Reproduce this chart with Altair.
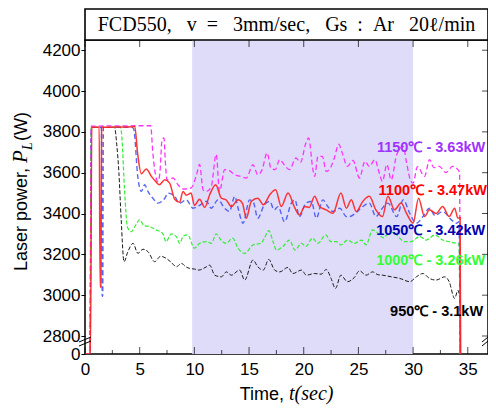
import altair as alt
import pandas as pd

# ---------------- data ----------------
x_major = [0, 5, 10, 15, 20, 25, 30, 35]
x_minor = [2.5, 7.5, 12.5, 17.5, 22.5, 27.5, 32.5]
y_ticks = [0, 2800, 3000, 3200, 3400, 3600, 3800, 4000, 4200]
shade_span = [9.8, 30.0]

s950 = [(0, 0), (0.45, 0), (0.58, 3822), (2.7, 3822), (2.9, 3740), (3.1, 3600), (3.3, 3380), (3.57, 3164),
        (3.9, 3210), (4.39, 3254), (4.84, 3205), (5.3, 3225), (5.76, 3213), (6.37, 3164), (6.9, 3190),
        (7.44, 3180), (7.9, 3160), (8.35, 3139), (8.81, 3156), (9.2, 3140), (9.57, 3131), (10.0, 3128),
        (10.4, 3123), (11.1, 3139), (11.4, 3147), (11.86, 3098), (12.47, 3090), (12.93, 3114), (13.38, 3098),
        (14.14, 3123), (14.6, 3074), (15.36, 3172), (15.8, 3139), (16.3, 3123), (16.8, 3175), (17.34, 3123),
        (17.8, 3114), (18.56, 3136), (19.0, 3106), (19.8, 3123), (20.24, 3098), (21.0, 3106), (21.6, 3103),
        (22.06, 3126), (22.5, 3082), (22.9, 3033), (23.4, 3098), (24.0, 3066), (24.6, 3085), (25.1, 3119),
        (25.7, 3098), (26.3, 3114), (26.8, 3100), (27.2, 3098), (28.0, 3090), (28.8, 3082), (29.7, 3066),
        (30.3, 3090), (30.9, 3106), (31.5, 3082), (32.1, 3074), (32.9, 3090), (33.3, 3066), (33.8, 2984),
        (34.1, 3024), (34.25, 2990), (34.3, 0)]

s1000 = [(0, 0), (0.45, 0), (0.58, 3822), (3.25, 3822), (3.4, 3750), (3.6, 3530), (3.9, 3330), (4.24, 3311),
         (4.6, 3340), (5.0, 3369), (5.4, 3340), (5.9, 3336), (6.5, 3320), (7.1, 3303), (7.4, 3262), (7.9, 3300),
         (8.35, 3287), (8.65, 3254), (9.0, 3290), (9.4, 3295), (10.0, 3230), (10.48, 3254), (11.1, 3262),
         (11.55, 3254), (12.0, 3300), (12.47, 3267), (12.9, 3254), (13.5, 3279), (14.0, 3230), (14.6, 3205),
         (15.36, 3246), (16.1, 3254), (16.4, 3279), (16.8, 3316), (17.2, 3262), (17.5, 3221), (18.1, 3238),
         (18.7, 3270), (19.2, 3221), (19.8, 3254), (20.2, 3238), (20.8, 3279), (21.3, 3254), (22.0, 3295),
         (22.5, 3262), (23.0, 3262), (23.4, 3246), (24.0, 3270), (24.65, 3254), (25.3, 3270), (25.7, 3246),
         (26.3, 3320), (26.8, 3303), (27.3, 3280), (27.85, 3311), (28.5, 3295), (29.2, 3262), (29.8, 3262),
         (30.6, 3287), (31.2, 3270), (32.0, 3295), (32.7, 3270), (33.3, 3262), (33.95, 3254), (34.2, 3250),
         (34.3, 0)]

s1050 = [(0, 0), (0.45, 0), (0.58, 3822), (1.5, 3822), (1.57, 2995), (1.62, 2995), (1.68, 3822), (4.3, 3822),
         (4.45, 3815), (4.84, 3574), (5.15, 3508), (5.46, 3541), (5.76, 3508), (6.2, 3475), (6.67, 3451),
         (7.3, 3475), (7.6, 3500), (8.2, 3484), (8.65, 3451), (9.27, 3467), (9.87, 3426), (10.48, 3440),
         (11.1, 3460), (11.55, 3426), (12.16, 3467), (12.77, 3426), (13.2, 3410), (13.7, 3484), (14.0, 3426),
         (14.45, 3352), (15.05, 3467), (15.4, 3455), (15.8, 3377), (16.4, 3443), (16.9, 3459), (17.3, 3418),
         (17.65, 3434), (18.25, 3360), (18.87, 3451), (19.2, 3467), (19.6, 3385), (20.2, 3451), (20.7, 3459),
         (21.15, 3377), (21.75, 3467), (22.2, 3434), (22.67, 3410), (23.3, 3426), (23.9, 3385), (24.2, 3385),
         (24.7, 3400), (25.4, 3434), (26.0, 3451), (26.6, 3385), (27.1, 3420), (27.7, 3451), (28.5, 3385),
         (29.1, 3467), (29.7, 3400), (30.3, 3352), (30.9, 3385), (31.5, 3426), (32.0, 3390), (32.7, 3410),
         (33.5, 3369), (33.95, 3352), (34.2, 3360), (34.3, 0)]

s1100 = [(0, 0), (0.5, 0), (0.62, 3822), (1.3, 3822), (1.38, 3040), (1.45, 3040), (1.52, 3822), (4.4, 3825),
         (4.55, 3828), (4.8, 3700), (5.15, 3595), (5.6, 3618), (6.07, 3582), (6.5, 3555), (6.8, 3541),
         (7.3, 3565), (7.74, 3549), (8.2, 3470), (8.65, 3455), (8.96, 3508), (9.27, 3490), (9.7, 3500),
         (10.0, 3440), (10.48, 3470), (10.95, 3430), (11.4, 3492), (11.95, 3541), (12.47, 3475), (12.9, 3467),
         (13.4, 3434), (14.0, 3467), (14.4, 3450), (14.75, 3377), (15.2, 3459), (15.8, 3475), (16.3, 3443),
         (16.9, 3492), (17.43, 3516), (17.95, 3434), (18.56, 3500), (19.2, 3426), (19.6, 3393), (20.1, 3434),
         (20.5, 3430), (21.0, 3484), (21.45, 3434), (22.06, 3418), (22.67, 3401), (23.4, 3500), (23.9, 3426),
         (24.35, 3467), (24.8, 3410), (25.4, 3459), (26.0, 3484), (26.6, 3418), (27.2, 3385), (27.7, 3484),
         (28.3, 3418), (28.9, 3451), (29.4, 3401), (30.0, 3352), (30.5, 3475), (31.05, 3385), (31.5, 3418),
         (32.1, 3400), (32.7, 3434), (33.3, 3385), (33.8, 3426), (34.1, 3377), (34.3, 3380), (34.35, 0)]

s1150 = [(0, 0), (0.45, 0), (0.58, 3828), (6.0, 3830), (6.2, 3700), (6.37, 3615), (6.67, 3557), (6.85, 3600),
         (7.05, 3762), (7.22, 3770), (7.35, 3650), (7.5, 3565), (8.05, 3574), (8.5, 3541), (9.0, 3520),
         (9.7, 3525), (10.2, 3590), (10.48, 3640), (10.8, 3516), (11.1, 3508), (11.55, 3533), (12.0, 3690),
         (12.3, 3508), (12.77, 3615), (13.2, 3610), (13.7, 3590), (14.2, 3582), (14.75, 3574), (15.36, 3639),
         (15.8, 3590), (16.2, 3615), (16.65, 3697), (17.0, 3623), (17.4, 3615), (17.8, 3664), (18.2, 3640),
         (18.7, 3615), (19.3, 3672), (19.7, 3650), (20.2, 3746), (20.45, 3770), (20.84, 3615), (21.0, 3582),
         (21.3, 3680), (21.7, 3680), (22.06, 3606), (22.5, 3630), (22.8, 3672), (23.2, 3740), (23.5, 3700),
         (24.0, 3631), (24.5, 3660), (25.1, 3574), (25.6, 3656), (26.0, 3630), (26.5, 3664), (26.9, 3600),
         (27.2, 3557), (27.6, 3640), (28.0, 3565), (28.5, 3688), (29.1, 3729), (29.4, 3650), (29.8, 3557),
         (30.0, 3549), (30.4, 3630), (31.05, 3582), (31.5, 3664), (31.9, 3625), (32.4, 3631), (33.0, 3600),
         (33.6, 3631), (34.1, 3615), (34.25, 3600), (34.3, 0)]

series = {"950": s950, "1000": s1000, "1050": s1050, "1150": s1150, "1100": s1100}

labels = ["1150℃ - 3.63kW", "1100℃ - 3.47kW", "1050℃ - 3.42kW", "1000℃ - 3.26kW", "950℃ - 3.1kW"]
label_x = [36.6, 36.75, 36.6, 36.6, 36.4]
label_y = [3723, 3508, 3316, 3168, 2918]

title_text = "FCD550,\u00a0\u00a0 v\u00a0\u00a0=\u00a0\u00a0 3mm/sec,\u00a0\u00a0 Gs\u00a0\u00a0:\u00a0\u00a0Ar\u00a0\u00a0 20ℓ/min"

# ---------------- styles ----------------
W, H = 403, 314
line_style = {
    "950": dict(color="#1a1a1a", strokeDash=[4, 2], strokeWidth=1.0),
    "1000": dict(color="#33ee33", strokeDash=[4, 2], strokeWidth=1.2),
    "1050": dict(color="#3a4cf2", strokeDash=[5, 3], strokeWidth=1.4, opacity=0.85),
    "1150": dict(color="#ff33ff", strokeDash=[5, 3], strokeWidth=1.3),
    "1100": dict(color="#ff2020", strokeWidth=1.5, opacity=0.9),
}
label_colors = ["#a033ff", "#ff0000", "#0000b0", "#33ff33", "#000000"]
SANS = "Liberation Sans"
SERIF = "Liberation Serif"

xscale = alt.Scale(domain=[0, 36.85], nice=False, zero=False)
yscale = alt.Scale(domain=[0, 2800, 4250], range=[H, H - 18, 0], nice=False, zero=False)
x_axis = alt.Axis(values=x_major, ticks=False, tickSize=0, domain=False, grid=False, labelFont=SANS,
                  labelFontSize=17, labelPadding=7, labelColor="black", labelFlush=False,
                  labelOverlap=False, format="d", title=None)
y_axis = alt.Axis(values=y_ticks, ticks=True, tickSize=4, tickColor="black", domain=False, grid=False,
                  labelFont=SANS, labelFontSize=17, labelPadding=1, labelColor="black",
                  labelOverlap=False, format="d", title=None)


def X(field):
    return alt.X(field, type="quantitative", scale=xscale, axis=x_axis)


def Y(field):
    return alt.Y(field, type="quantitative", scale=yscale, axis=y_axis)


one = pd.DataFrame({"a": [0]})
layers = []

# shaded window
layers.append(
    alt.Chart(pd.DataFrame({"x0": [shade_span[0]], "x1": [shade_span[1]]}))
    .mark_rect(color="#dedcf8")
    .encode(x=X("x0"), x2="x1", y=alt.value(0), y2=alt.value(H))
)

# lines
for name, pts in series.items():
    df = pd.DataFrame({"t": [p[0] for p in pts], "v": [p[1] for p in pts], "i": range(len(pts))})
    layers.append(
        alt.Chart(df).mark_line(clip=True, interpolate="monotone", **line_style[name])
        .encode(x=X("t"), y=Y("v"), order=alt.Order("i:Q"))
    )

# inward ticks (bottom, top, right)
df_maj = pd.DataFrame({"t": x_major})
df_min = pd.DataFrame({"t": x_minor})
df_yt = pd.DataFrame({"v": y_ticks[1:]})
layers += [
    alt.Chart(df_maj).mark_tick(orient="vertical", size=7, thickness=1, color="black")
    .encode(x=X("t"), y=alt.value(H - 3.5)),
    alt.Chart(df_min).mark_tick(orient="vertical", size=4, thickness=1, color="black")
    .encode(x=X("t"), y=alt.value(H - 2)),
    alt.Chart(df_maj).mark_tick(orient="vertical", size=7, thickness=1, color="black")
    .encode(x=X("t"), y=alt.value(3.5)),
    alt.Chart(df_yt).mark_tick(orient="horizontal", size=6, thickness=1, color="black")
    .encode(y=Y("v"), x=alt.value(W - 3)),
]

# axis break marks
for bx in (0, W):
    for dy in (0, 4):
        layers.append(
            alt.Chart(one).mark_rule(color="black", strokeWidth=1)
            .encode(x=alt.value(bx - 6), x2=alt.value(min(bx + 6, W)),
                    y=alt.value(H - 12 + dy), y2=alt.value(H - 17 + dy))
        )

# annotations
df_lab = pd.DataFrame({"x": label_x, "y": label_y, "label": labels})
layers.append(
    alt.Chart(df_lab).mark_text(align="right", baseline="middle", font=SANS, fontSize=14.5,
                                fontWeight="bold")
    .encode(x=X("x"), y=Y("y"), text="label:N",
            color=alt.Color("label:N", scale=alt.Scale(domain=labels, range=label_colors), legend=None))
)

# title box
layers.append(
    alt.Chart(one).mark_rect(fill="white", stroke="black", strokeWidth=1.6)
    .encode(x=alt.value(0), x2=alt.value(W), y=alt.value(-31), y2=alt.value(0))
)
layers.append(
    alt.Chart(pd.DataFrame({"s": [title_text]})).mark_text(font=SERIF, fontSize=20, align="center",
                                                           baseline="middle", color="black")
    .encode(x=alt.value(W / 2), y=alt.value(-15), text="s:N")
)

# axis titles
def txt(s, x, y, **kw):
    return alt.Chart(pd.DataFrame({"s": [s]})).mark_text(color="black", **kw).encode(
        x=alt.value(x), y=alt.value(y), text="s:N")


layers += [
    txt("Laser power,", -58, 128, font=SANS, fontSize=18, angle=270, align="right", baseline="alphabetic"),
    txt("P", -58, 123, font=SERIF, fontSize=21, fontStyle="italic", angle=270, align="left",
        baseline="alphabetic"),
    txt("L", -53, 110, font=SERIF, fontSize=14, fontStyle="italic", angle=270, align="left",
        baseline="alphabetic"),
    txt("(W)", -58, 101, font=SANS, fontSize=18, angle=270, align="left", baseline="alphabetic"),
    txt("Time,", 199, 360, font=SANS, fontSize=18, align="right", baseline="alphabetic"),
    txt("t(sec)", 204, 360, font=SERIF, fontSize=20, fontStyle="italic", align="left",
        baseline="alphabetic"),
]

chart = (
    alt.layer(*layers)
    .properties(width=W, height=H, autosize=alt.AutoSizeParams(type="none"),
                padding={"left": 77, "top": 32, "right": 0, "bottom": 52})
    .configure_view(stroke="black", strokeWidth=1.5)
)

chart.save("out.html", embed_options={"renderer": "svg", "actions": False})
